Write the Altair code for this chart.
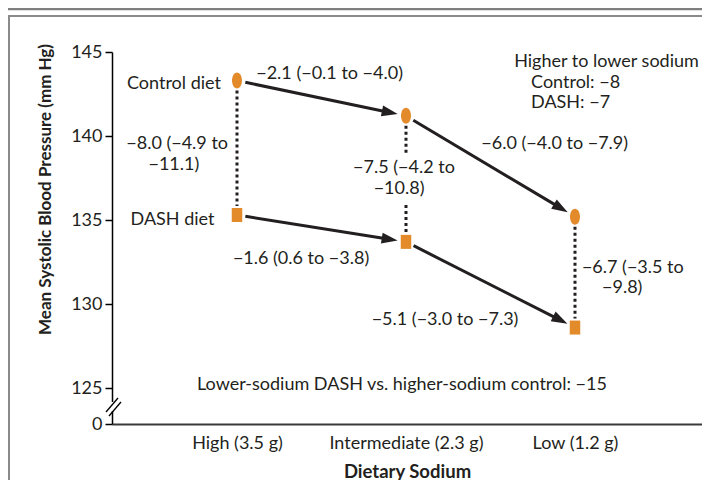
import json
import math
import altair as alt
import pandas as pd

# ---------------- data ----------------
sodium_levels = ["High (3.5 g)", "Intermediate (2.3 g)", "Low (1.2 g)"]
control_sbp = [143.3, 141.2, 135.2]
dash_sbp = [135.3, 133.7, 128.6]
y_tick_values = [125, 130, 135, 140, 145]
axis_floor = 122.86  # bottom of the broken axis, labelled "0"

diet_diff_lines = [["−8.0 (−4.9 to", "−11.1)"],
                   ["−7.5 (−4.2 to", "−10.8)"],
                   ["−6.7 (−3.5 to", "−9.8)"]]
control_step_labels = ["−2.1 (−0.1 to −4.0)", "−6.0 (−4.0 to −7.9)"]
dash_step_labels = ["−1.6 (0.6 to −3.8)", "−5.1 (−3.0 to −7.3)"]
summary_lines = ["Higher to lower sodium", "Control: −8", "DASH: −7"]
overall_label = "Lower-sodium DASH vs. higher-sodium control: −15"
diet_names = ["Control diet", "DASH diet"]

# ---------------- layout ----------------
W, H = 590, 372
X_DOMAIN = [-0.7396, 2.7515]
Y_DOMAIN = [axis_floor, 145]
PX = W / (X_DOMAIN[1] - X_DOMAIN[0])
PY = H / (Y_DOMAIN[1] - Y_DOMAIN[0])

FONT = "Lato"
TXT = "#231F20"
ORANGE = "#E38A2A"
FS = 18

xs = alt.Scale(domain=X_DOMAIN, nice=False, zero=False)
ys = alt.Scale(domain=Y_DOMAIN, nice=False, zero=False)

x_axis = alt.Axis(
    values=[0, 1, 2], labelExpr=f"{json.dumps(sodium_levels)}[datum.value]",
    ticks=False, tickSize=0, grid=False, domainColor="#3a3a3a", domainWidth=2,
    labelFont=FONT, labelFontSize=FS, labelColor=TXT, labelBaseline="middle",
    labelPadding=19, labelAlign="center",
    title="Dietary Sodium", titleFont=FONT, titleFontSize=18.5, titleFontWeight="bold",
    titleColor=TXT, titleX=295, titleY=47, titleBaseline="middle", titleAlign="center",
)
y_axis = alt.Axis(
    values=[axis_floor] + y_tick_values,
    labelExpr="datum.value < 124 ? '0' : datum.label",
    grid=False, domainColor="black", domainWidth=1.5, tickColor="black",
    tickWidth=1.5, tickSize=7, labelFont=FONT, labelFontSize=FS, labelColor=TXT,
    labelPadding=3,
    title="Mean Systolic Blood Pressure (mm Hg)", titleFont=FONT, titleFontSize=17,
    titleFontWeight="bold", titleColor=TXT, titleX=-67, titleY=137, titleAngle=270,
    titleAlign="center", titleBaseline="middle",
)


def X(field):
    return alt.X(field, type="quantitative", scale=xs, axis=x_axis)


def Y(field):
    return alt.Y(field, type="quantitative", scale=ys, axis=y_axis)


# ---------------- points ----------------
pts = pd.DataFrame({
    "x": list(range(3)) * 2,
    "y": control_sbp + dash_sbp,
    "diet": [diet_names[0]] * 3 + [diet_names[1]] * 3,
})
ELLIPSE = ("M0,-1 C0.345,-1 0.625,-0.552 0.625,0 C0.625,0.552 0.345,1 0,1 "
           "C-0.345,1 -0.625,0.552 -0.625,0 C-0.625,-0.552 -0.345,-1 0,-1 Z")
RECT = "M-0.75,-1 L0.75,-1 L0.75,1 L-0.75,1 Z"

ctrl_pts = alt.Chart(pts[pts["diet"] == diet_names[0]]).mark_point(
    shape=ELLIPSE, size=256, filled=True, color=ORANGE, opacity=1).encode(x=X("x"), y=Y("y"))
dash_pts = alt.Chart(pts[pts["diet"] == diet_names[1]]).mark_point(
    shape=RECT, size=196, filled=True, color=ORANGE, opacity=1).encode(x=X("x"), y=Y("y"))

# ---------------- arrows ----------------
START_GAP, END_GAP, HEAD_LEN = 8.5, 8.5, 16


def arrow_rows(vals, diet):
    rows = []
    for i in range(len(vals) - 1):
        x0, y0, x1, y1 = i, vals[i], i + 1, vals[i + 1]
        dxp, dyp = (x1 - x0) * PX, -(y1 - y0) * PY
        L = math.hypot(dxp, dyp)
        ux, uy = dxp / L, dyp / L

        def at(d):
            return x0 + ux * d / PX, y0 - uy * d / PY
        sx, sy = at(START_GAP)
        tx, ty = at(L - END_GAP)
        ex, ey = at(L - END_GAP - HEAD_LEN + 3)
        ang = math.degrees(math.atan2(dyp, dxp)) % 360
        rows.append(dict(diet=diet, sx=sx, sy=sy, ex=ex, ey=ey, tx=tx, ty=ty, angle=ang))
    return rows


arr = pd.DataFrame(arrow_rows(control_sbp, diet_names[0]) + arrow_rows(dash_sbp, diet_names[1]))
arrow_lines = alt.Chart(arr).mark_rule(color=TXT, strokeWidth=3).encode(
    x=X("sx"), y=Y("sy"), x2="ex", y2="ey")
HEAD = "M0,0 L-2,-0.68 L-2,0.68 Z"
arrow_heads = alt.Chart(arr).mark_point(
    shape=HEAD, size=256, filled=True, color=TXT, opacity=1).encode(
    x=X("tx"), y=Y("ty"), angle=alt.Angle("angle:Q", scale=None))

# ---------------- dotted connectors ----------------
GAP_TOP, GAP_BOT = 10, 9
label_gap_mid = (138.95, 135.9)  # gap left for the middle difference label
dots = []
for i in range(3):
    top = control_sbp[i] - GAP_TOP / PY
    bot = dash_sbp[i] + GAP_BOT / PY
    if i == 1:
        dots.append(dict(x=i, y=top, y2=label_gap_mid[0]))
        dots.append(dict(x=i, y=label_gap_mid[1], y2=bot))
    else:
        dots.append(dict(x=i, y=top, y2=bot))
dotted = alt.Chart(pd.DataFrame(dots)).mark_rule(
    color=TXT, strokeWidth=3, strokeDash=[3, 3]).encode(x=X("x"), y=Y("y"), y2="y2")

# ---------------- annotations ----------------
ann = [
    (diet_names[0], -0.095, 143.10, "right"),
    (diet_names[1], -0.133, 135.03, "right"),
    (diet_diff_lines[0][0], -0.053, 139.52, "right"),
    (diet_diff_lines[0][1], -0.223, 138.27, "right"),
    (diet_diff_lines[1][0], 0.988, 138.10, "center"),
    (diet_diff_lines[1][1], 0.959, 136.85, "center"),
    (diet_diff_lines[2][0], 2.041, 132.14, "left"),
    (diet_diff_lines[2][1], 2.160, 130.95, "left"),
    (control_step_labels[0], 0.548, 143.69, "center"),
    (control_step_labels[1], 1.880, 139.52, "center"),
    (dash_step_labels[0], 0.379, 132.68, "center"),
    (dash_step_labels[1], 1.231, 129.05, "center"),
    (summary_lines[0], 1.640, 144.40, "left"),
    (summary_lines[1], 1.740, 143.17, "left"),
    (summary_lines[2], 1.740, 141.95, "left"),
    (overall_label, 0.976, 125.18, "center"),
]
ann_df = pd.DataFrame(ann, columns=["text", "x", "y", "anchor"])
text_layers = []
for al in ["left", "center", "right"]:
    sub = ann_df[ann_df["anchor"] == al]
    text_layers.append(alt.Chart(sub).mark_text(
        align=al, baseline="middle", font=FONT, fontSize=FS, color=TXT).encode(
        x=X("x"), y=Y("y"), text="text:N"))

# ---------------- decorations (frame, axis break) ----------------
one = pd.DataFrame({"k": [0]})
frame_top = alt.Chart(one).mark_rule(color="#7f7f7f", strokeWidth=2.5).encode(
    x=alt.value(-110), x2=alt.value(700), y=alt.value(-43), y2=alt.value(-43))
box_top = alt.Chart(one).mark_rule(color="#8a8a8a", strokeWidth=2).encode(
    x=alt.value(-103), x2=alt.value(700), y=alt.value(-36), y2=alt.value(-36))
box_left = alt.Chart(one).mark_rule(color="#8a8a8a", strokeWidth=2).encode(
    x=alt.value(-103), x2=alt.value(-103), y=alt.value(-37), y2=alt.value(460))
break_white = alt.Chart(one).mark_rule(color="white", strokeWidth=4).encode(
    x=alt.value(0), x2=alt.value(0), y=alt.value(350), y2=alt.value(359))
slash1 = alt.Chart(one).mark_rule(color="black", strokeWidth=1.3).encode(
    x=alt.value(-6), x2=alt.value(6), y=alt.value(360), y2=alt.value(346))
slash2 = alt.Chart(one).mark_rule(color="black", strokeWidth=1.3).encode(
    x=alt.value(-3), x2=alt.value(9), y=alt.value(364), y2=alt.value(350))

chart = alt.layer(
    dotted, arrow_lines, arrow_heads, ctrl_pts, dash_pts, *text_layers,
    frame_top, box_top, box_left, break_white, slash1, slash2,
).properties(
    width=W, height=H,
    autosize=alt.AutoSizeParams(type="none"),
    padding={"left": 104, "top": 44, "right": 0, "bottom": 56},
    background="white",
).configure_view(stroke=None)

chart.save("out.html", embed_options={"renderer": "svg", "actions": False})
